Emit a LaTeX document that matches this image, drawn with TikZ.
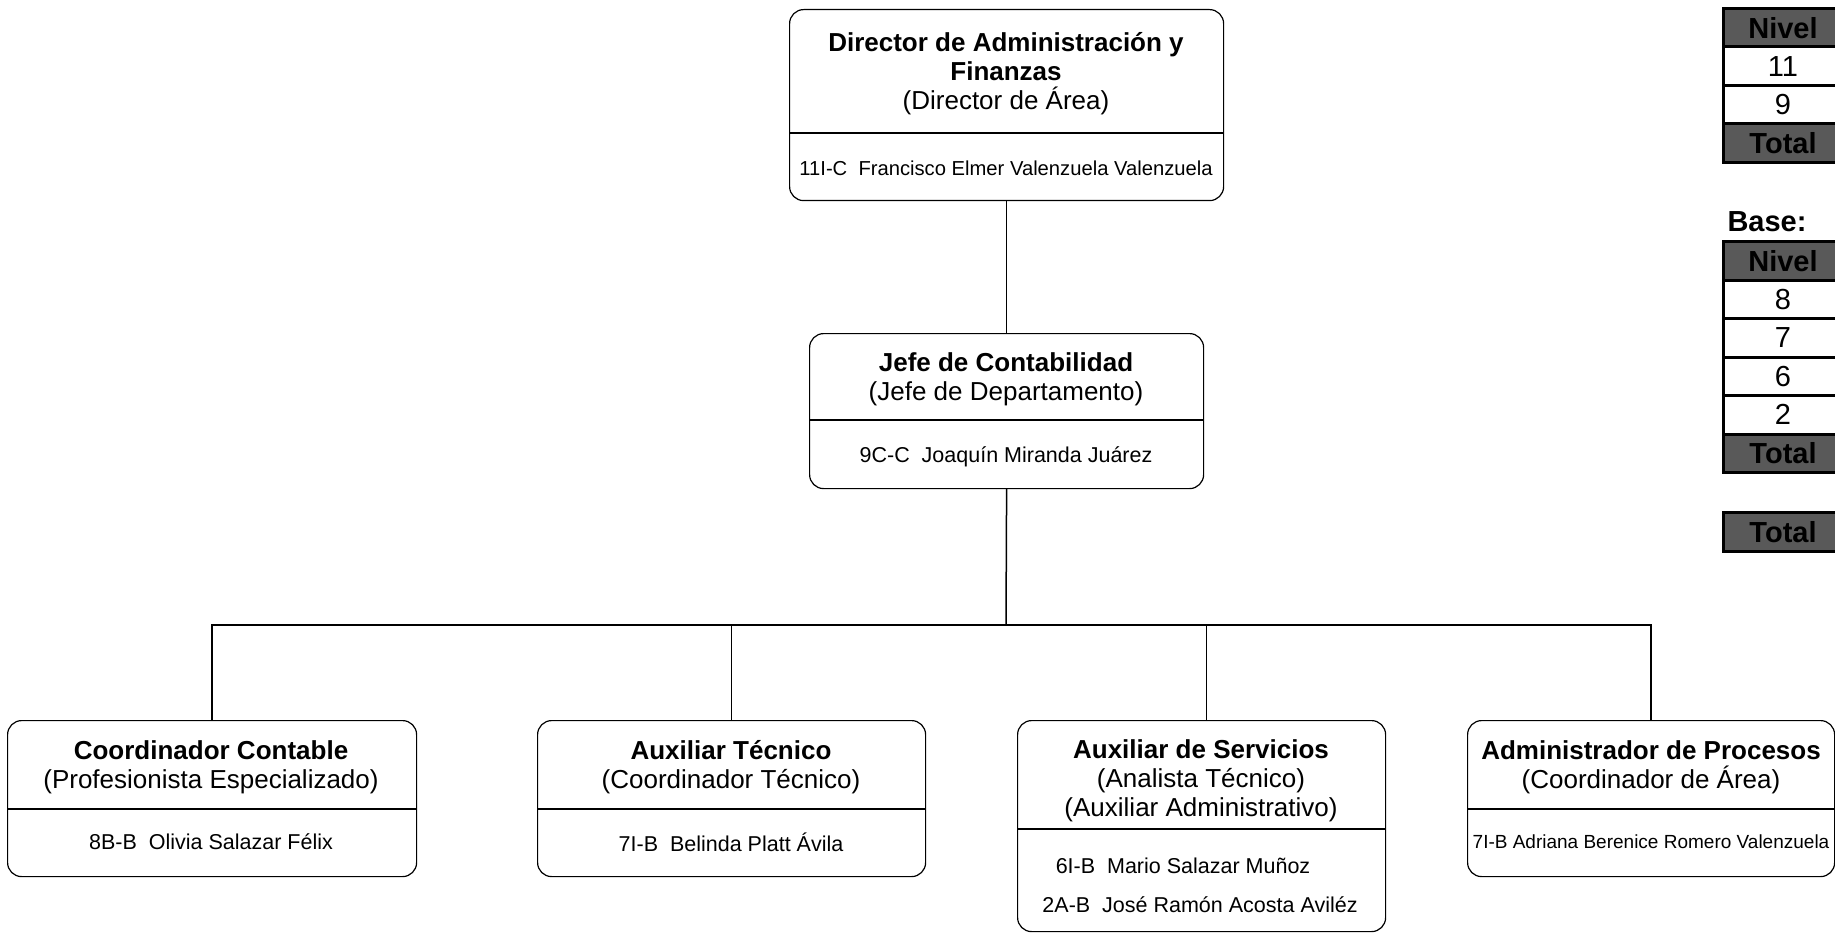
\documentclass[tikz,border=0pt]{standalone}
\usepackage{fontspec}
\setmainfont{Liberation Sans}
\usetikzlibrary{positioning}

\definecolor{gris}{HTML}{595959}

\tikzset{
  puesto/.style={draw, rounded corners=14pt, line width=1.2pt, anchor=north west, inner sep=0pt},
  cargo/.style={align=center, font=\fontsize{26}{29}\selectfont},
  nombre/.style={font=\fontsize{21.5}{24}\selectfont},
  linea/.style={line width=1.5pt},
  celda/.style={draw, line width=3pt, minimum width=119pt, minimum height=38.5pt, anchor=north west, inner sep=0pt, font=\fontsize{29}{30}\selectfont},
  encab/.style={celda, fill=gris, font=\bfseries\fontsize{29}{30}\selectfont},
}

\begin{document}
\begin{tikzpicture}[x=1pt, y=-1pt]
        \useasboundingbox (0,0) rectangle (1835,933);

        % puestos
        \node[puesto, minimum width=434pt, minimum height=191pt] (dir) at (789,9) {};
        \node[cargo] (dirt) at (1006,73.5) {\textbf{Director de Administración y}\\\textbf{Finanzas}\\(Director de Área)};
        \draw[line width=1.2pt] (dir.west |- 0,133) -- (dir.east |- 0,133);
        \node[nombre, font=\fontsize{20.2}{24}\selectfont] (dirn) at (1006,168) {11I-C\ \ Francisco Elmer Valenzuela Valenzuela};

        \node[puesto, minimum width=394pt, minimum height=155pt] (jefe) at (809,333) {};
        \node[cargo] (jefet) at (1006,379.5) {\textbf{Jefe de Contabilidad}\\(Jefe de Departamento)};
        \draw[line width=1.2pt] (jefe.west |- 0,420) -- (jefe.east |- 0,420);
        \node[nombre] (jefen) at (1006,457) {9C-C\ \ Joaquín Miranda Juárez};

        \node[puesto, minimum width=409pt, minimum height=156pt] (coord) at (7,720) {};
        \node[cargo] (coordt) at (211,767.5) {\textbf{Coordinador Contable}\\(Profesionista Especializado)};
        \draw[line width=1.2pt] (coord.west |- 0,809) -- (coord.east |- 0,809);
        \node[nombre] (coordn) at (211,842) {8B-B\ \ Olivia Salazar Félix};

        \node[puesto, minimum width=388pt, minimum height=156pt] (auxt) at (537,720) {};
        \node[cargo] (auxtt) at (731,767.5) {\textbf{Auxiliar Técnico}\\(Coordinador Técnico)};
        \draw[line width=1.2pt] (auxt.west |- 0,809) -- (auxt.east |- 0,809);
        \node[nombre] (auxtn) at (731,842) {7I-B\ \ Belinda Platt Ávila};

        \node[puesto, minimum width=368pt, minimum height=211pt] (auxs) at (1017,720) {};
        \node[cargo] (auxst) at (1201,781) {\textbf{Auxiliar de Servicios}\\(Analista Técnico)\\(Auxiliar Administrativo)};
        \draw[line width=1.2pt] (auxs.west |- 0,829) -- (auxs.east |- 0,829);
        \node[nombre] (auxsa) at (1183,866) {6I-B\ \ Mario Salazar Muñoz};
        \node[nombre] (auxsb) at (1200,905) {2A-B\ \ José Ramón Acosta Aviléz};

        \node[puesto, minimum width=367pt, minimum height=156pt] (adm) at (1467,720) {};
        \node[cargo] (admt) at (1651,767.5) {\textbf{Administrador de Procesos}\\(Coordinador de Área)};
        \draw[line width=1.2pt] (adm.west |- 0,809) -- (adm.east |- 0,809);
        \node[nombre, font=\fontsize{19}{24}\selectfont] (admn) at (1651,842) {7I-B Adriana Berenice Romero Valenzuela};

        % conectores
        \coordinate (bus) at (1006,625);
        \draw[linea] (dir.south) -- (jefe.north);
        \draw[linea] (jefe.south) -- (bus);
        \draw[linea] (coord.north) |- (bus);
        \draw[linea] (auxt.north) |- (bus);
        \draw[linea] ([xshift=5pt]auxs.north) |- (bus);
        \draw[linea] (adm.north) |- (bus);

        % tablas
        \begin{scope}
        \clip (0,0) rectangle (1835,933);
        \node[encab] (n1) at (1722,7) {Nivel};
        \node[celda] (n11) at (1722,45.5) {11};
        \node[celda] (n9) at (1722,84) {9};
        \node[encab] (tot1) at (1722,122.5) {Total};

        \node[anchor=west, font=\bfseries\fontsize{29}{30}\selectfont] (base) at (1724,222) {Base:};
        \node[encab] (n2) at (1722,240) {Nivel};
        \node[celda] (n8) at (1722,278.5) {8};
        \node[celda] (n7) at (1722,317) {7};
        \node[celda] (n6) at (1722,355.5) {6};
        \node[celda] (n2b) at (1722,394) {2};
        \node[encab] (tot2) at (1722,432.5) {Total};

        \node[encab] (tot) at (1722,511) {Total};
        \end{scope}
\end{tikzpicture}
\end{document}
